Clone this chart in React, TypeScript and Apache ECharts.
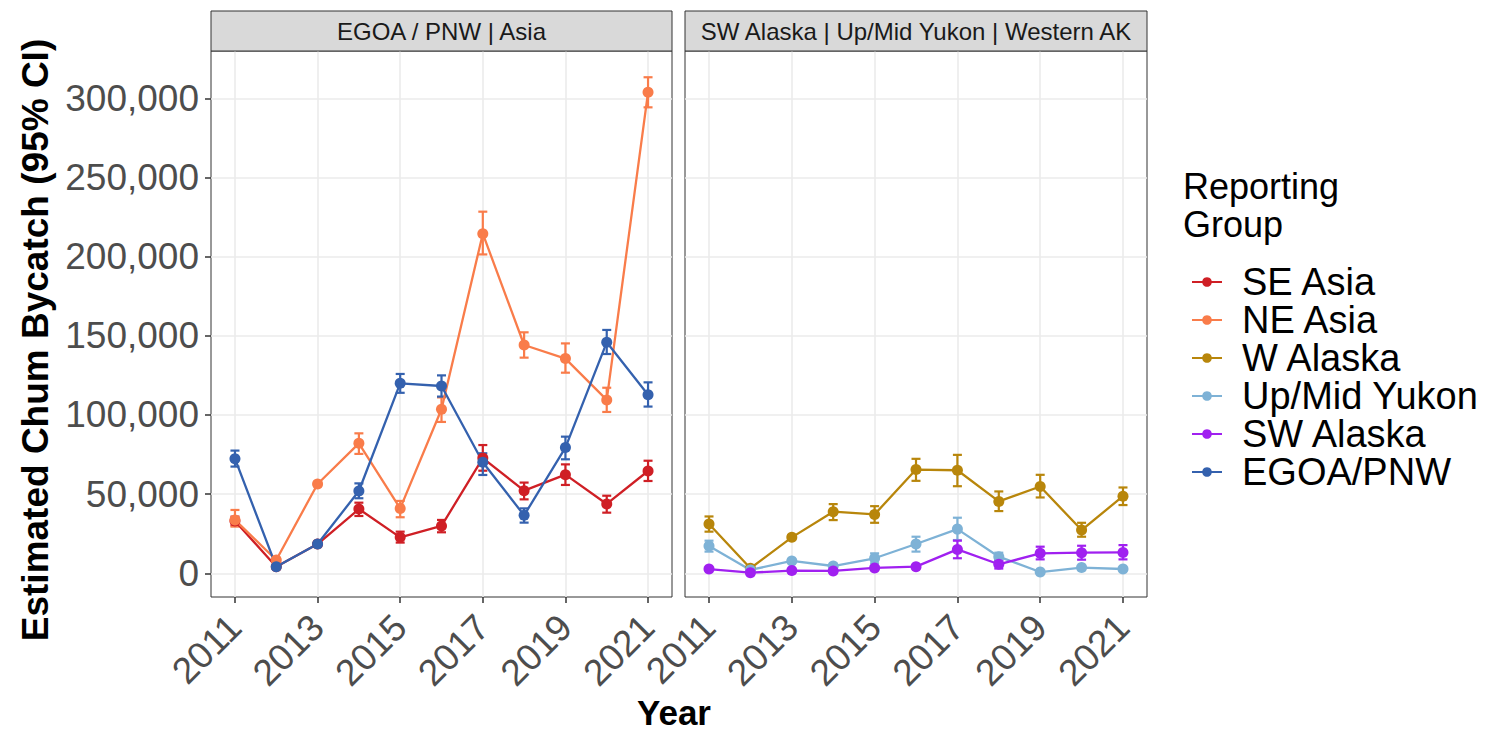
import React, { useEffect, useRef } from "react";
import * as echarts from "echarts";

const years = [2011, 2012, 2013, 2014, 2015, 2016, 2017, 2018, 2019, 2020, 2021];
const yTicks = [0, 50000, 100000, 150000, 200000, 250000, 300000];
const xTicks = [2011, 2013, 2015, 2017, 2019, 2021];
const panelTitles = ["EGOA / PNW | Asia", "SW Alaska | Up/Mid Yukon | Western AK"];

const seAsia = [33000, 4200, 18500, 40600, 22700, 29900, 72800, 52200, 62300, 43800, 64600];
const seAsiaLo = [30300, 3200, 17000, 36200, 19400, 25900, 64800, 46700, 55800, 38300, 58300];
const seAsiaHi = [35800, 5200, 20000, 44600, 26300, 33700, 81000, 57300, 68800, 49000, 71100];

const neAsia = [33700, 8400, 56400, 82100, 41000, 103600, 214500, 144200, 135600, 109500, 303800];
const neAsiaLo = [29500, 7000, 55000, 75400, 35400, 95600, 201400, 136200, 126700, 101900, 294300];
const neAsiaHi = [40000, 9800, 57800, 88400, 45700, 111100, 228400, 152200, 145200, 117200, 313300];

const egoa = [72400, 4200, 18500, 52000, 120000, 118300, 70100, 36600, 79400, 145900, 112800];
const egoaLo = [67400, 3200, 17500, 47400, 114000, 111600, 62100, 32000, 72000, 138500, 105300];
const egoaHi = [77500, 5200, 19500, 56800, 125900, 125000, 75800, 41000, 86300, 153700, 120600];

const wAlaska = [31100, 3200, 22700, 38900, 37200, 65500, 65100, 45400, 54800, 27300, 48700];
const wAlaskaLo = [26300, 2500, 21500, 33600, 31900, 58400, 55000, 39300, 47900, 23100, 43100];
const wAlaskaHi = [35900, 4000, 24000, 43700, 42400, 72300, 74800, 51700, 62200, 31900, 54200];

const upMid = [17200, 2100, 7800, 4600, 9500, 18500, 27900, 10500, 800, 3600, 2700];
const upMidLo = [13700, 1500, 6800, 3200, 6300, 13700, 21000, 8000, 300, 2800, 2000];
const upMidHi = [20600, 2700, 8800, 6000, 12600, 23100, 35100, 13000, 1300, 4400, 3400];

const swAlaska = [2700, 400, 1700, 1500, 3400, 4200, 15100, 5700, 12600, 13000, 13200];
const swAlaskaLo = [2000, 100, 1200, 1000, 2600, 3200, 9500, 3000, 8800, 8600, 8800];
const swAlaskaHi = [3400, 700, 2200, 2000, 4200, 5200, 20600, 8400, 16800, 17400, 17800];

const groups = [
  { name: "SE Asia", color: "#CF1F25", panel: 0, v: seAsia, lo: seAsiaLo, hi: seAsiaHi },
  { name: "NE Asia", color: "#F97C4A", panel: 0, v: neAsia, lo: neAsiaLo, hi: neAsiaHi },
  { name: "W Alaska", color: "#B8860B", panel: 1, v: wAlaska, lo: wAlaskaLo, hi: wAlaskaHi },
  { name: "Up/Mid Yukon", color: "#7EB2D6", panel: 1, v: upMid, lo: upMidLo, hi: upMidHi },
  { name: "SW Alaska", color: "#A020F0", panel: 1, v: swAlaska, lo: swAlaskaLo, hi: swAlaskaHi },
  { name: "EGOA/PNW", color: "#3461AE", panel: 0, v: egoa, lo: egoaLo, hi: egoaHi },
];

const FONT = "'Liberation Sans', Arial, Helvetica, sans-serif";

export default function App() {
  const ref = useRef<HTMLDivElement>(null);
  useEffect(() => {
    if (!ref.current) return;
    const chart = echarts.init(ref.current, null, { renderer: "svg" });
    const panels = [
      { left: 211, width: 461 },
      { left: 685, width: 462 },
    ];
    const grid = panels.map((p) => ({
      left: p.left,
      top: 51,
      width: p.width,
      height: 546,
      show: true,
      borderColor: "#333333",
      borderWidth: 1,
      backgroundColor: "#FFFFFF",
    }));
    const xAxis = panels.map((_, i) => ({
      type: "value",
      gridIndex: i,
      min: 2010.42,
      max: 2021.58,
      axisLine: { show: false, onZero: false },
      axisTick: { show: true, customValues: xTicks, length: 6, lineStyle: { color: "#333333", width: 1.5 } },
      axisLabel: {
        customValues: xTicks,
        rotate: 45,
        fontSize: 37,
        color: "#4D4D4D",
        fontFamily: FONT,
        margin: 24,
        formatter: (v: number) => String(v),
      },
      splitLine: { show: true, lineStyle: { color: "#EBEBEB", width: 1.6 } },
    }));
    const yAxis = panels.map((_, i) => ({
      type: "value",
      gridIndex: i,
      min: -14970,
      max: 329880,
      axisLine: { show: false, onZero: false },
      axisTick: { show: i === 0, customValues: yTicks, length: 6, lineStyle: { color: "#333333", width: 1.5 } },
      axisLabel: {
        show: i === 0,
        customValues: yTicks,
        fontSize: 37,
        color: "#4D4D4D",
        fontFamily: FONT,
        margin: 12,
        formatter: (v: number) => v.toLocaleString("en-US"),
      },
      splitLine: { show: true, lineStyle: { color: "#EBEBEB", width: 1.6 } },
    }));

    const series: any[] = [];
    groups.forEach((g) => {
      series.push({
        type: "custom",
        name: g.name + " CI",
        xAxisIndex: g.panel,
        yAxisIndex: g.panel,
        z: 2,
        silent: true,
        encode: { x: 0, y: [1, 2] },
        data: years.map((y, k) => [y, g.lo[k], g.hi[k]]),
        renderItem: (params: any, api: any) => {
          const x = api.value(0);
          const pLo = api.coord([x, api.value(1)]);
          const pHi = api.coord([x, api.value(2)]);
          const w = 4.5;
          const style = { stroke: g.color, lineWidth: 2.2, fill: "none" };
          return {
            type: "group",
            children: [
              { type: "line", shape: { x1: pLo[0], y1: pLo[1], x2: pHi[0], y2: pHi[1] }, style },
              { type: "line", shape: { x1: pLo[0] - w, y1: pLo[1], x2: pLo[0] + w, y2: pLo[1] }, style },
              { type: "line", shape: { x1: pHi[0] - w, y1: pHi[1], x2: pHi[0] + w, y2: pHi[1] }, style },
            ],
          };
        },
      });
    });
    groups.forEach((g) => {
      series.push({
        type: "line",
        name: g.name,
        xAxisIndex: g.panel,
        yAxisIndex: g.panel,
        z: 3,
        data: years.map((y, k) => [y, g.v[k]]),
        symbol: "circle",
        symbolSize: 11,
        showSymbol: true,
        color: g.color,
        itemStyle: { color: g.color },
        lineStyle: { color: g.color, width: 2.3 },
      });
    });

    const graphic: any[] = [];
    panels.forEach((p, i) => {
      graphic.push({
        type: "rect",
        shape: { x: p.left, y: 11, width: p.width, height: 40 },
        style: { fill: "#D9D9D9", stroke: "#333333", lineWidth: 1 },
        z: 10,
      });
      graphic.push({
        type: "text",
        x: p.left + p.width / 2,
        y: 31,
        style: {
          text: panelTitles[i],
          fontSize: 24,
          fill: "#1A1A1A",
          fontFamily: FONT,
          textAlign: "center",
          textVerticalAlign: "middle",
        },
        z: 11,
      });
    });
    graphic.push({
      type: "text",
      x: 35,
      y: 340,
      rotation: Math.PI / 2,
      style: {
        text: "Estimated Chum Bycatch (95% CI)",
        fontSize: 37,
        fontWeight: "bold",
        fill: "#000000",
        fontFamily: FONT,
        textAlign: "center",
        textVerticalAlign: "middle",
      },
    });
    graphic.push({
      type: "text",
      x: 674,
      y: 712,
      style: {
        text: "Year",
        fontSize: 35,
        fontWeight: "bold",
        fill: "#000000",
        fontFamily: FONT,
        textAlign: "center",
        textVerticalAlign: "middle",
      },
    });
    graphic.push({
      type: "text",
      x: 1183,
      y: 186,
      style: { text: "Reporting", fontSize: 36, fill: "#000000", fontFamily: FONT, textAlign: "left", textVerticalAlign: "middle" },
    });
    graphic.push({
      type: "text",
      x: 1183,
      y: 224,
      style: { text: "Group", fontSize: 36, fill: "#000000", fontFamily: FONT, textAlign: "left", textVerticalAlign: "middle" },
    });

    chart.setOption({
      animation: false,
      backgroundColor: "#FFFFFF",
      grid,
      xAxis,
      yAxis,
      series,
      graphic,
      legend: {
        show: true,
        orient: "vertical",
        left: 1186,
        top: 258,
        itemWidth: 30,
        itemHeight: 12,
        itemGap: 0,
        data: groups.map((g) => g.name),
        textStyle: { fontSize: 38, color: "#000000", fontFamily: FONT, lineHeight: 37.3, padding: [0, 0, 0, 15] },
      },
    });
    return () => chart.dispose();
  }, []);
  return <div ref={ref} style={{ position: "absolute", left: 0, top: 0, width: 1487, height: 733 }} />;
}
